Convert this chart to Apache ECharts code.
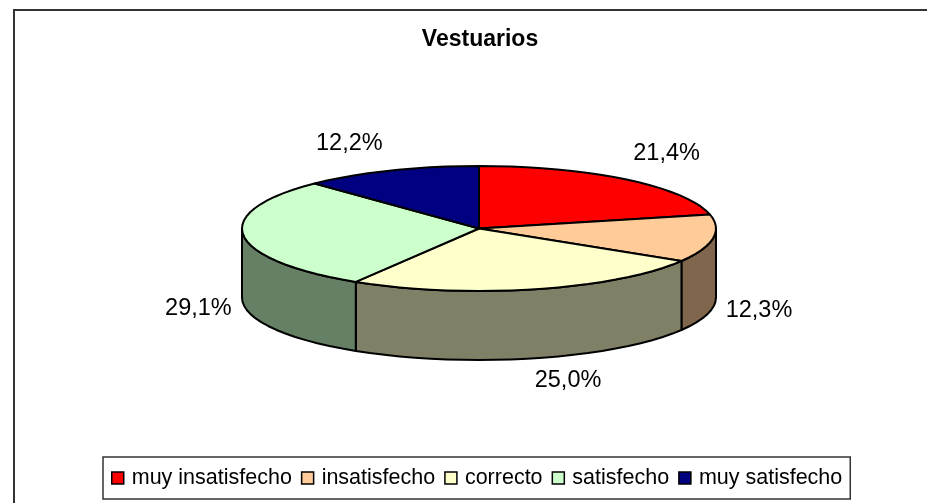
<!DOCTYPE html>
<html><head><meta charset="utf-8">
<style>html,body{margin:0;padding:0;background:#fff}#c{width:927px;height:503px}</style>
<script src="https://cdn.jsdelivr.net/npm/echarts@6/dist/echarts.min.js"></script>
</head><body><div id="c"></div>
<script>
const categories = ['muy insatisfecho', 'insatisfecho', 'correcto', 'satisfecho', 'muy satisfecho'];
const shares = [21.4, 12.3, 25.0, 29.1, 12.2];
const topColors = ['#FF0000', '#FFCC99', '#FFFFCC', '#CCFFCC', '#000080'];
const sideColors = ['#800000', '#80664D', '#808066', '#668066', '#000040'];
const labelOffsets = [[40, -26], [46, 72], [33, 91], [-45, 73], [-41, -27]];

const cx = 479, cy = 228.5, rx = 237, ry = 62.5, depth = 69;
const total = shares.reduce((a, b) => a + b, 0);
const ang = p => p / total * 2 * Math.PI;
const px = t => [cx + rx * Math.sin(t), cy - ry * Math.cos(t)];

function arc(t0, t1) {
  const n = Math.max(2, Math.ceil((t1 - t0) / 0.07));
  const pts = [];
  for (let i = 0; i <= n; i++) pts.push(px(t0 + (t1 - t0) * i / n));
  return pts;
}
function makeItem(idx) {
  return function (params, api) {
    const before = shares.slice(0, idx).reduce((a, b) => a + b, 0);
    const t0 = ang(before), t1 = ang(before + api.value(0));
    const stroke = { stroke: '#000', lineWidth: 2, lineJoin: 'round' };
    const children = [];
    const a0 = Math.max(t0, Math.PI / 2), a1 = Math.min(t1, Math.PI * 1.5);
    if (a1 > a0) {
      const front = arc(a0, a1);
      const down = front.slice().reverse().map(p => [p[0], p[1] + depth]);
      children.push({ type: 'polygon', shape: { points: front.concat(down) },
        style: Object.assign({ fill: sideColors[idx] }, stroke) });
    }
    children.push({ type: 'polygon', shape: { points: [[cx, cy]].concat(arc(t0, t1)) },
      style: Object.assign({ fill: topColors[idx] }, stroke) });
    const m = px((t0 + t1) / 2), off = labelOffsets[idx];
    children.push({ type: 'text', style: {
      x: m[0] + off[0], y: m[1] + off[1], text: api.value(0).toFixed(1).replace('.', ',') + '%',
      font: '23.5px "Liberation Sans"', fill: '#000', align: 'center', verticalAlign: 'middle' } });
    return { type: 'group', children };
  };
}
const chart = echarts.init(document.getElementById('c'));
chart.setOption({
  animation: false,
  backgroundColor: '#fff',
  title: { text: 'Vestuarios', left: 475, top: 23, textAlign: 'center',
    textStyle: { fontFamily: 'Liberation Sans', fontSize: 23, fontWeight: 'bold', color: '#000' } },
  graphic: [{ type: 'rect', z: -1, silent: true, shape: { x: 14, y: 10, width: 1000, height: 600 },
    style: { fill: '#fff', stroke: '#333', lineWidth: 2 } }],
  legend: {
    left: 103, top: 457, selectedMode: false, orient: 'horizontal',
    data: categories, icon: 'rect', itemWidth: 12, itemHeight: 12, itemGap: 9,
    backgroundColor: '#fff', borderColor: '#333', borderWidth: 1.5,
    padding: [10, 8, 10, 8],
    textStyle: { fontFamily: 'Liberation Sans', fontSize: 21.5, color: '#000', padding: [0, 0, 0, 3] },
    itemStyle: { borderColor: '#000', borderWidth: 1.5 }
  },
  series: categories.map((name, i) => ({
    type: 'custom', name, coordinateSystem: 'none', silent: true,
    itemStyle: { color: topColors[i] },
    data: [[shares[i]]], renderItem: makeItem(i)
  }))
});
</script></body></html>
